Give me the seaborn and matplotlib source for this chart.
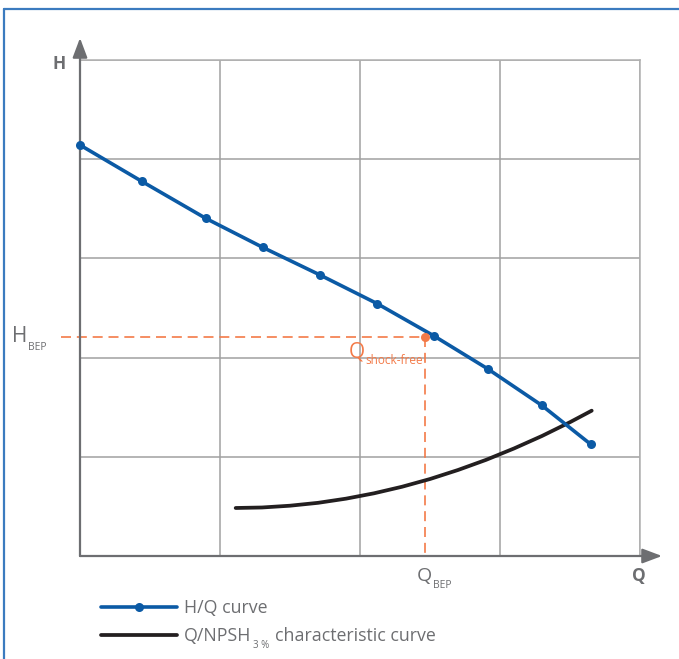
import matplotlib
matplotlib.use("Agg")
import matplotlib.pyplot as plt
from matplotlib.lines import Line2D
import seaborn as sns
import pandas as pd

# ---- data (grid units: 4 columns x 5 rows) ----
hq_q = [0.0, 0.441, 0.898, 1.304, 1.714, 2.124, 2.529, 2.914, 3.298, 3.648]
hq_h = [4.143, 3.777, 3.404, 3.112, 2.833, 2.543, 2.218, 1.885, 1.519, 1.126]

npsh_q = [1.112, 1.3, 1.5, 1.7, 1.9, 2.1, 2.3, 2.5, 2.7, 2.9, 3.1, 3.3, 3.5, 3.655]
npsh_h = [0.484, 0.489, 0.507, 0.536, 0.578, 0.632, 0.698, 0.776, 0.867, 0.969,
          1.084, 1.210, 1.349, 1.465]

bep_q = 2.464
bep_h = 2.205

x_grid = [0, 1, 2, 3, 4]
y_grid = [0, 1, 2, 3, 4, 5]

BLUE = "#0b5aa5"
ORANGE = "#f37a48"
GRAY = "#6d6e71"
GRID = "#a0a0a0"
FRAME = "#3b7bbf"

sns.set_theme(style="white")
plt.rcParams["font.family"] = ["Open Sans", "DejaVu Sans"]

W, H = 679, 659
fig = plt.figure(figsize=(W / 100, H / 100), dpi=100)
fig.patch.set_facecolor("white")
renderer = fig.canvas.get_renderer()


def fx(px):
    return px / W


def fy(py):
    return 1 - py / H


def right_px(t):
    bb = t.get_window_extent(renderer=renderer)
    return bb.x1


ax = fig.add_axes([fx(80), fy(556), 560 / W, 496 / H])
ax.set_xlim(0, 4)
ax.set_ylim(0, 5)
ax.set_xticks(x_grid)
ax.set_yticks(y_grid)
ax.tick_params(left=False, bottom=False, labelleft=False, labelbottom=False)
ax.grid(True, color=GRID, lw=1.1)
for s in ["top", "right"]:
    ax.spines[s].set_visible(True)
    ax.spines[s].set_color("#b0b0b0")
    ax.spines[s].set_linewidth(1.1)
for s in ["left", "bottom"]:
    ax.spines[s].set_visible(False)

# axis arrows
arrow_kw = dict(arrowstyle="-|>,head_length=0.85,head_width=0.32", color=GRAY,
                lw=1.6, mutation_scale=14, shrinkA=0, shrinkB=0)
ax.annotate("", xy=(0, (556 - 38) / 496), xytext=(0, 0), xycoords="axes fraction",
            textcoords="axes fraction", arrowprops=arrow_kw, annotation_clip=False, zorder=5)
ax.annotate("", xy=((662 - 80) / 560, 0), xytext=(0, 0), xycoords="axes fraction",
            textcoords="axes fraction", arrowprops=arrow_kw, annotation_clip=False, zorder=5)

# BEP dashed lines
ax.plot([-0.136, bep_q], [bep_h, bep_h], color=ORANGE, lw=1.2, ls=(0, (6, 3.5)),
        clip_on=False, zorder=3)
ax.plot([bep_q, bep_q], [bep_h, 0], color=ORANGE, lw=1.2, ls=(0, (6, 3.5)),
        clip_on=False, zorder=3)

# curves
df_hq = pd.DataFrame({"Q": hq_q, "H": hq_h})
df_np = pd.DataFrame({"Q": npsh_q, "H": npsh_h})
sns.lineplot(data=df_np, x="Q", y="H", ax=ax, color="#231f20", lw=2.7, zorder=4)
sns.lineplot(data=df_hq, x="Q", y="H", ax=ax, color=BLUE, lw=2.6, marker="o",
             markersize=6.5, markeredgewidth=0, zorder=6, clip_on=False)
ax.plot([bep_q], [bep_h], "o", color=ORANGE, markersize=6.5, markeredgewidth=0, zorder=7)
ax.set_xlabel("")
ax.set_ylabel("")

# texts
fig.text(fx(53), fy(64), "H", color=GRAY, fontsize=12.5, fontweight="bold", ha="left", va="center")
fig.text(fx(632), fy(576), "Q", color=GRAY, fontsize=12.5, fontweight="bold", ha="left", va="center")


def sub_label(x, y, main, sub, color, fs_main, fs_sub, dy_sub, gap=1):
    t = fig.text(fx(x), fy(y), main, color=color, fontsize=fs_main, ha="left", va="center")
    xr = right_px(t)
    fig.text((xr + gap) / W, fy(y + dy_sub), sub, color=color, fontsize=fs_sub,
             ha="left", va="center")


sub_label(12, 337, "H", "BEP", GRAY, 15, 7.5, 10)
sub_label(417, 576, "Q", "BEP", GRAY, 14, 7.5, 9)
sub_label(349, 352, "Q", "shock-free", ORANGE, 15, 8.5, 9, gap=0)

# legend (manual)
fig.add_artist(Line2D([fx(101), fx(177)], [fy(607), fy(607)], color=BLUE, lw=2.6))
fig.add_artist(Line2D([fx(139)], [fy(607)], color=BLUE, marker="o", markersize=6.5,
                      markeredgewidth=0, lw=0))
fig.add_artist(Line2D([fx(101), fx(177)], [fy(635), fy(635)], color="#231f20", lw=2.7))
fig.text(fx(184), fy(608), "H/Q curve", color=GRAY, fontsize=12.8, ha="left", va="center")
t1 = fig.text(fx(184), fy(636), "Q/NPSH", color=GRAY, fontsize=12.8, ha="left", va="center")
x1 = right_px(t1)
t2 = fig.text((x1 + 2) / W, fy(645), "3 %", color=GRAY, fontsize=7, ha="left", va="center")
x2 = right_px(t2)
fig.text((x2 + 5) / W, fy(636), "characteristic curve", color=GRAY, fontsize=12.8,
         ha="left", va="center")

# blue frame
fig.add_artist(Line2D([fx(4), fx(679)], [fy(9), fy(9)], color=FRAME, lw=1.6))
fig.add_artist(Line2D([fx(4), fx(4)], [fy(9), fy(659)], color=FRAME, lw=1.6))

fig.savefig("out.png", dpi=100, facecolor="white")
